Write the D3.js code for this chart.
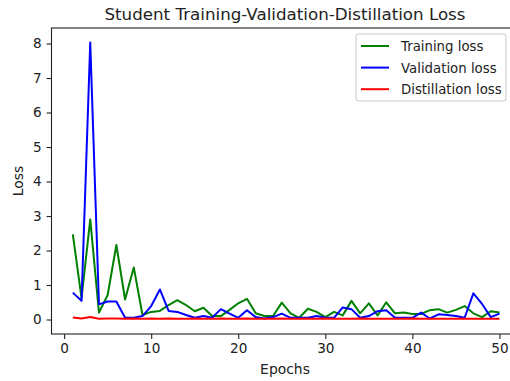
<!DOCTYPE html>
<html>
<head>
<meta charset="utf-8">
<script src="https://cdn.jsdelivr.net/npm/d3@7"></script>
<style>
  body { margin: 0; background: #fff; }
  svg text { font-family: "DejaVu Sans", sans-serif; fill: #222; }
</style>
</head>
<body>
<div id="chart"></div>
<script>
// données
const epochs = d3.range(1, 51);
const trainLoss = [2.47, 0.62, 2.9, 0.2, 0.71, 2.16, 0.58, 1.51, 0.13, 0.22,
  0.25, 0.42, 0.56, 0.42, 0.24, 0.34, 0.1, 0.1, 0.28, 0.47,
  0.6, 0.18, 0.1, 0.1, 0.49, 0.18, 0.05, 0.31, 0.22, 0.07,
  0.22, 0.12, 0.54, 0.18, 0.47, 0.12, 0.5, 0.18, 0.2, 0.16,
  0.16, 0.27, 0.3, 0.2, 0.28, 0.39, 0.18, 0.07, 0.24, 0.2];
const valLoss = [0.78, 0.54, 8.03, 0.44, 0.52, 0.52, 0.05, 0.05, 0.1, 0.39,
  0.87, 0.25, 0.22, 0.13, 0.05, 0.1, 0.05, 0.3, 0.17, 0.05,
  0.27, 0.07, 0.03, 0.07, 0.17, 0.05, 0.05, 0.05, 0.1, 0.05,
  0.05, 0.35, 0.3, 0.05, 0.1, 0.24, 0.27, 0.05, 0.05, 0.05,
  0.2, 0.03, 0.15, 0.13, 0.1, 0.05, 0.76, 0.45, 0.07, 0.17];
const distLoss = [0.06, 0.03, 0.07, 0.02, 0.03, 0.03, 0.02, 0.03, 0.02, 0.03,
  0.02, 0.03, 0.02, 0.02, 0.03, 0.02, 0.02, 0.03, 0.02, 0.02,
  0.03, 0.02, 0.02, 0.02, 0.03, 0.02, 0.02, 0.02, 0.02, 0.03,
  0.02, 0.02, 0.02, 0.03, 0.02, 0.02, 0.02, 0.02, 0.02, 0.03,
  0.02, 0.02, 0.02, 0.02, 0.02, 0.02, 0.02, 0.02, 0.02, 0.02];
const xTicks = [0, 10, 20, 30, 40, 50];
const yTicks = [0, 1, 2, 3, 4, 5, 6, 7, 8];

const series = [
  { name: "Training loss", values: trainLoss, color: "green" },
  { name: "Validation loss", values: valLoss, color: "blue" },
  { name: "Distillation loss", values: distLoss, color: "red" }
];

const W = 510, H = 381;
const margin = { left: 51.5, top: 28, bottom: 334, right: 520.8 };

const svg = d3.select("#chart").append("svg")
  .attr("width", W).attr("height", H);

const x = d3.scaleLinear().domain([-1.45, 52.45]).range([margin.left, margin.right]);
const y = d3.scaleLinear().domain([-0.42, 8.45]).range([margin.bottom, margin.top]);

//------lignes
const line = d3.line().x((d, i) => x(epochs[i])).y(d => y(d));
series.forEach(s => {
  svg.append("path")
    .datum(s.values)
    .attr("fill", "none")
    .attr("stroke", s.color)
    .attr("stroke-width", 2)
    .attr("stroke-linejoin", "round")
    .attr("d", line);
});

//------axes
const xAxis = svg.append("g")
  .attr("transform", `translate(0,${margin.bottom})`)
  .call(d3.axisBottom(x).tickValues(xTicks).tickSize(4.9).tickPadding(4.5));
const yAxis = svg.append("g")
  .attr("transform", `translate(${margin.left},0)`)
  .call(d3.axisLeft(y).tickValues(yTicks).tickSize(4.9).tickPadding(4.9));
[xAxis, yAxis].forEach(a => {
  a.select(".domain").remove();
  a.selectAll("line").attr("stroke", "#222").attr("stroke-width", 1.1);
  a.selectAll("text").style("font-size", "13.6px").attr("fill", "#222");
});

// cadre
svg.append("rect")
  .attr("x", margin.left).attr("y", margin.top)
  .attr("width", margin.right - margin.left)
  .attr("height", margin.bottom - margin.top)
  .attr("fill", "none").attr("stroke", "#222").attr("stroke-width", 1.1);

//------titres
svg.append("text")
  .attr("x", 285).attr("y", 20)
  .attr("text-anchor", "middle")
  .style("font-size", "16.7px")
  .text("Student Training-Validation-Distillation Loss");

svg.append("text")
  .attr("x", 285).attr("y", 374)
  .attr("text-anchor", "middle")
  .style("font-size", "13.9px")
  .text("Epochs");

svg.append("text")
  .attr("transform", `translate(23,${(margin.top + margin.bottom) / 2}) rotate(-90)`)
  .attr("text-anchor", "middle")
  .style("font-size", "13.9px")
  .text("Loss");

//------légende
const legend = svg.append("g");
legend.append("rect")
  .attr("x", 356).attr("y", 34).attr("width", 150).attr("height", 67)
  .attr("rx", 2.5)
  .attr("fill", "white").attr("fill-opacity", 0.8)
  .attr("stroke", "#ccc").attr("stroke-width", 1.1);
series.forEach((s, i) => {
  const ly = 46 + i * 21.6;
  legend.append("line")
    .attr("x1", 361).attr("x2", 389).attr("y1", ly).attr("y2", ly)
    .attr("stroke", s.color).attr("stroke-width", 2);
  legend.append("text")
    .attr("x", 401).attr("y", ly + 5)
    .style("font-size", "13.3px")
    .text(s.name);
});
</script>
</body>
</html>
